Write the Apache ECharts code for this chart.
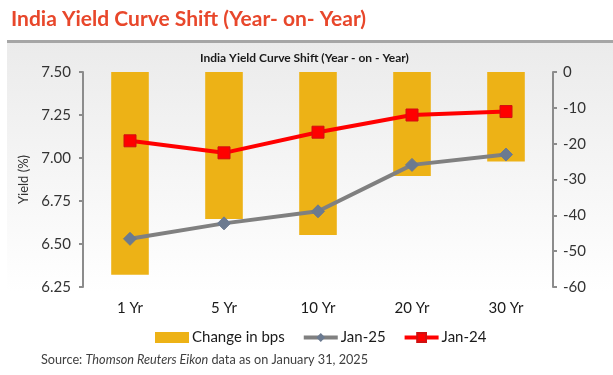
<!DOCTYPE html>
<html><head><meta charset="utf-8">
<script src="https://cdn.jsdelivr.net/npm/echarts@6/dist/echarts.min.js"></script>
<style>html,body{margin:0;padding:0;background:#fff}#c{width:613px;height:375px}</style>
</head><body><div id="c"></div>
<script>
var categories = ['1 Yr','5 Yr','10 Yr','20 Yr','30 Yr'];
var changeBps = [-56.6, -41, -45.5, -29, -25];
var jan25 = [6.53, 6.62, 6.69, 6.96, 7.02];
var jan24 = [7.10, 7.03, 7.15, 7.25, 7.27];
var leftTicks = {min: 6.25, max: 7.5, interval: 0.25};
var rightTicks = {min: -60, max: 0, interval: 10};

var FONT = 'Lato, "Open Sans", sans-serif';
var chart = echarts.init(document.getElementById('c'), null, {renderer:'canvas'});
chart.setOption({
  animation:false,
  textStyle:{fontFamily:FONT},
  graphic:[
    {type:'rect', shape:{x:7,y:43,width:606,height:332}, silent:true, z:-10,
     style:{fill:new echarts.graphic.LinearGradient(0,0,0,1,[{offset:0,color:'#ebebeb'},{offset:0.75,color:'#ffffff'},{offset:1,color:'#ffffff'}])}},
    {type:'rect', shape:{x:7,y:40,width:606,height:3}, silent:true, z:-9, style:{fill:'#a6a6a6'}}
  ],
  title:[
    {text:'India Yield Curve Shift (Year- on- Year)', left:6, top:4,
     textStyle:{fontFamily:FONT, fontSize:21, fontWeight:'bold', color:'#E8472B'}},
    {text:'India Yield Curve Shift (Year - on - Year)', left:195, top:47,
     textStyle:{fontFamily:FONT, fontSize:12, fontWeight:'bold', color:'#1a1a1a'}},
    {text:'Source: {i|Thomson Reuters Eikon} data as on January 31, 2025', left:36, top:348,
     textStyle:{fontFamily:FONT, fontSize:12.7, fontWeight:'normal', color:'#404040',
       rich:{i:{fontStyle:'italic', fontFamily:FONT, fontSize:12.7, color:'#404040'}}}}
  ],
  legend:{
    top:325, left:150, itemGap:17, itemWidth:34, itemHeight:11,
    textStyle:{fontFamily:FONT, fontSize:15, color:'#1a1a1a', padding:[0,0,0,-2]},
    data:[
      {name:'Change in bps', icon:'rect', itemStyle:{color:'#EDB216'}},
      {name:'Jan-25', lineStyle:{width:4, color:'#808080'}},
      {name:'Jan-24', lineStyle:{width:4, color:'#FF0000'}}
    ]
  },
  grid:{left:83, right:60, top:72, bottom:88},
  xAxis:{type:'category', data:categories,
    axisLine:{show:false}, axisTick:{show:false},
    axisLabel:{fontFamily:FONT, fontSize:15, color:'#1a1a1a', margin:14}},
  yAxis:[
    {type:'value', min:leftTicks.min, max:leftTicks.max, interval:leftTicks.interval,
     name:'Yield (%)', nameLocation:'middle', nameGap:52, nameRotate:90,
     nameTextStyle:{fontFamily:FONT, fontSize:13, color:'#333'},
     axisLine:{show:true, lineStyle:{color:'#8c8c8c', width:2}},
     axisTick:{show:true, length:4, lineStyle:{color:'#8c8c8c', width:2}},
     splitLine:{show:false},
     axisLabel:{fontFamily:FONT, fontSize:15, color:'#333', margin:12, formatter:function(v){return v.toFixed(2);}}},
    {type:'value', min:rightTicks.min, max:rightTicks.max, interval:rightTicks.interval, position:'right',
     axisLine:{show:true, lineStyle:{color:'#8c8c8c', width:2}},
     axisTick:{show:true, length:4, lineStyle:{color:'#8c8c8c', width:2}},
     splitLine:{show:false},
     axisLabel:{fontFamily:FONT, fontSize:15, color:'#333', margin:10}}
  ],
  series:[
    {name:'Change in bps', type:'bar', yAxisIndex:1, data:changeBps, barWidth:'40%',
     itemStyle:{color:'#EDB216'}, z:1},
    {name:'Jan-25', type:'line', yAxisIndex:0, data:jan25, symbol:'diamond', symbolSize:13,
     lineStyle:{color:'#808080', width:4}, itemStyle:{color:'#6B7A90', borderColor:'#6B7A90'}, z:3},
    {name:'Jan-24', type:'line', yAxisIndex:0, data:jan24, symbol:'rect', symbolSize:12,
     lineStyle:{color:'#FF0000', width:4}, itemStyle:{color:'#FF0000', borderColor:'#D01010', borderWidth:1}, z:4}
  ]
});
</script></body></html>
